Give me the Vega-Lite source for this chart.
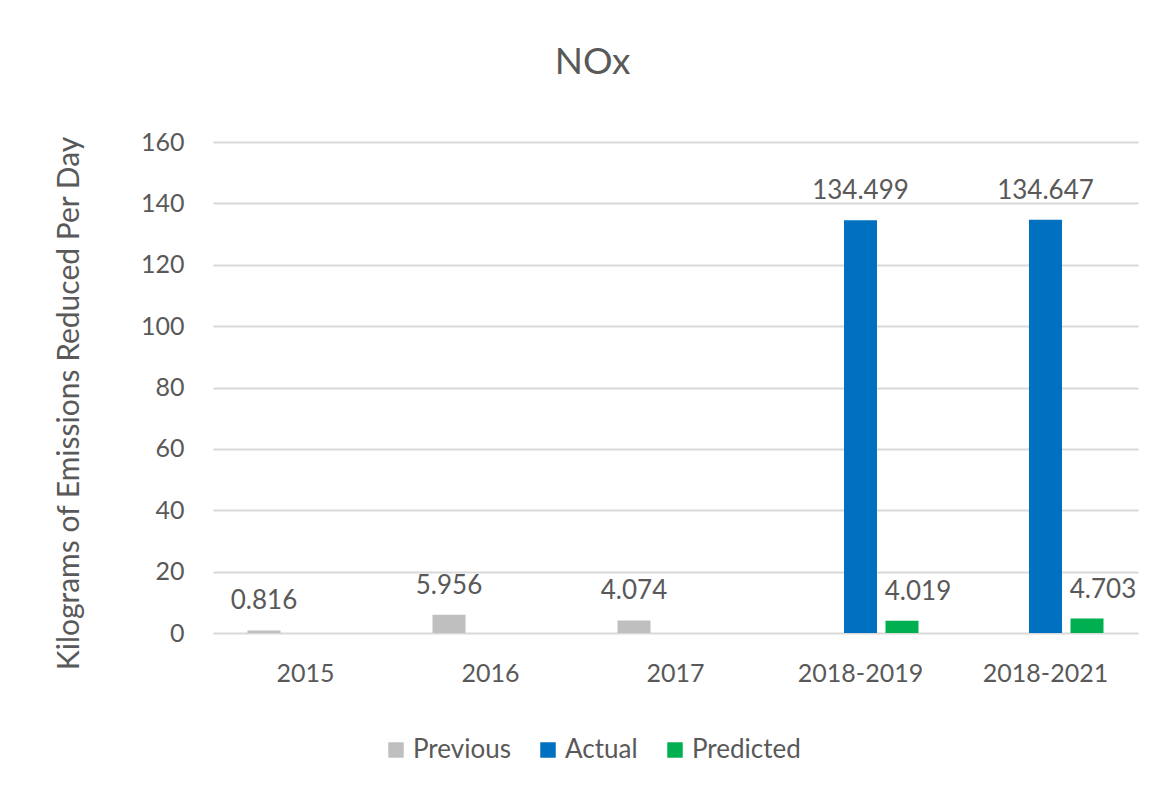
{
  "$schema": "https://vega.github.io/schema/vega-lite/v6.json",
  "autosize": {"type": "none"},
  "width": 925,
  "height": 491,
  "padding": {"left": 213, "top": 142, "right": 29, "bottom": 161},
  "background": "white",
  "title": {
    "text": "NOx",
    "font": "Lato",
    "fontSize": 37,
    "fontWeight": "normal",
    "color": "#595959",
    "anchor": "middle",
    "frame": "group",
    "baseline": "alphabetic",
    "offset": 19,
    "dx": -83
  },
  "data": {
    "values": [
      {"period": "2015", "series": "Previous", "value": 0.816},
      {"period": "2016", "series": "Previous", "value": 5.956},
      {"period": "2017", "series": "Previous", "value": 4.074},
      {"period": "2018-2019", "series": "Actual", "value": 134.499},
      {"period": "2018-2021", "series": "Actual", "value": 134.647},
      {"period": "2018-2019", "series": "Predicted", "value": 4.019},
      {"period": "2018-2021", "series": "Predicted", "value": 4.703}
    ]
  },
  "encoding": {
    "x": {
      "field": "period",
      "type": "nominal",
      "sort": ["2015", "2016", "2017", "2018-2019", "2018-2021"],
      "scale": {"paddingInner": 0.327, "paddingOuter": 0.1635},
      "axis": {
        "title": null,
        "labelAngle": 0,
        "labelFont": "Lato",
        "labelFontSize": 25,
        "labelColor": "#595959",
        "labelBaseline": "alphabetic",
        "labelPadding": 48,
        "ticks": false,
        "domain": false,
        "grid": false
      }
    },
    "xOffset": {
      "field": "series",
      "type": "nominal",
      "scale": {"domain": ["Previous", "Actual", "Predicted"], "paddingInner": 0.205, "paddingOuter": 0.1025}
    },
    "y": {
      "field": "value",
      "type": "quantitative",
      "scale": {"domain": [0, 160], "nice": false},
      "axis": {
        "title": "Kilograms of Emissions Reduced Per Day",
        "titleFont": "Lato",
        "titleFontSize": 30,
        "titleFontWeight": "normal",
        "titleColor": "#595959",
        "titleAngle": -90,
        "titleBaseline": "middle",
        "titleAlign": "center",
        "titleX": -144,
        "titleY": 261,
        "values": [0, 20, 40, 60, 80, 100, 120, 140, 160],
        "labelFont": "Lato",
        "labelFontSize": 25,
        "labelColor": "#595959",
        "labelPadding": 29,
        "ticks": false,
        "domain": false,
        "gridColor": "#D9D9D9",
        "gridWidth": 2
      }
    }
  },
  "layer": [
    {
      "mark": {"type": "bar"},
      "encoding": {
        "color": {
          "field": "series",
          "type": "nominal",
          "scale": {"domain": ["Previous", "Actual", "Predicted"], "range": ["#BFBFBF", "#0070C0", "#00B050"]},
          "legend": {
            "title": null,
            "orient": "none",
            "direction": "horizontal",
            "legendX": 170,
            "legendY": 595,
            "symbolType": "square",
            "symbolSize": 240,
            "symbolStrokeWidth": 0,
            "labelFont": "Lato",
            "labelFontSize": 26,
            "labelColor": "#595959",
            "labelOffset": 4,
            "columnPadding": 24
          }
        }
      }
    },
    {
      "transform": [{"filter": "datum.series !== 'Predicted'"}],
      "mark": {"type": "text", "baseline": "alphabetic", "dy": -21, "font": "Lato", "fontSize": 26, "color": "#595959"},
      "encoding": {"text": {"field": "value", "type": "quantitative", "format": ".3f"}}
    },
    {
      "transform": [{"filter": "datum.series === 'Predicted'"}],
      "mark": {"type": "text", "baseline": "alphabetic", "dy": -21, "dx": 16, "font": "Lato", "fontSize": 26, "color": "#595959"},
      "encoding": {"text": {"field": "value", "type": "quantitative", "format": ".3f"}}
    }
  ],
  "config": {
    "view": {"stroke": null}
  }
}
